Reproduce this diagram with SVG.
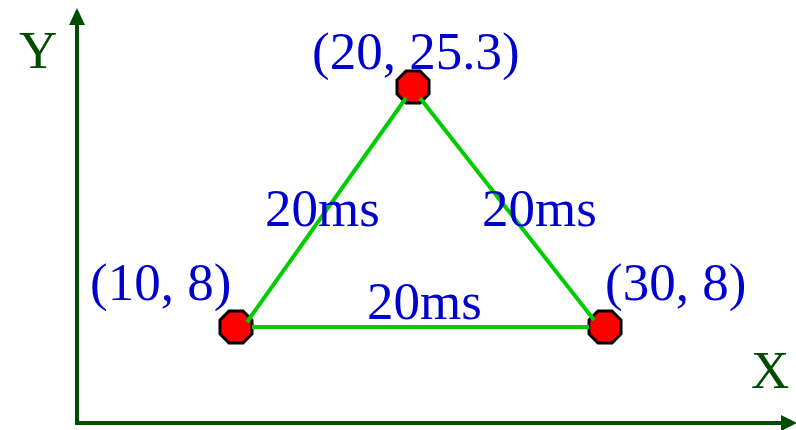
<svg xmlns="http://www.w3.org/2000/svg" width="796" height="430" viewBox="0 0 796 430">
<style>
.lbl{font-family:"Liberation Serif","Times New Roman",serif;font-size:53px;fill:#0000cc}
.ax{font-family:"Liberation Serif","Times New Roman",serif;font-size:53px;fill:#004d00}
.edge{stroke:#00cc00;stroke-width:4;fill:none}
.node{fill:#ff0000;stroke:#000;stroke-width:3}
.axis{stroke:#004d00;stroke-width:4;fill:none}
</style>
<defs>
<polygon id="oct" class="node" points="-7,-16 7,-16 16,-7 16,7 7,16 -7,16 -16,7 -16,-7"/>
</defs>
<g id="axes">
<polyline class="axis" points="77,22 77,423 784,423"/>
<polygon points="77,8 69,25 85,25" fill="#004d00"/>
<polygon points="797,423 781,415 781,431" fill="#004d00"/>
<text class="ax" x="19" y="68">Y</text>
<text class="ax" x="751" y="388">X</text>
</g>
<g id="n-top"><use href="#oct" x="413" y="87"/></g>
<g id="n-left"><use href="#oct" x="236" y="327"/></g>
<g id="n-right"><use href="#oct" x="605" y="327"/></g>
<g id="connectors">
<line class="edge" x1="247" y1="322" x2="406" y2="98"/>
<line class="edge" x1="420" y1="98" x2="594" y2="320"/>
<line class="edge" x1="252" y1="327" x2="589" y2="327"/>
</g>
<g id="labels">
<text class="lbl" x="312" y="69">(20, 25.3)</text>
<text class="lbl" x="90" y="300">(10, 8)</text>
<text class="lbl" x="605" y="300">(30, 8)</text>
<text class="lbl" x="265" y="226">20ms</text>
<text class="lbl" x="482" y="226">20ms</text>
<text class="lbl" x="367" y="319">20ms</text>
</g>
</svg>
